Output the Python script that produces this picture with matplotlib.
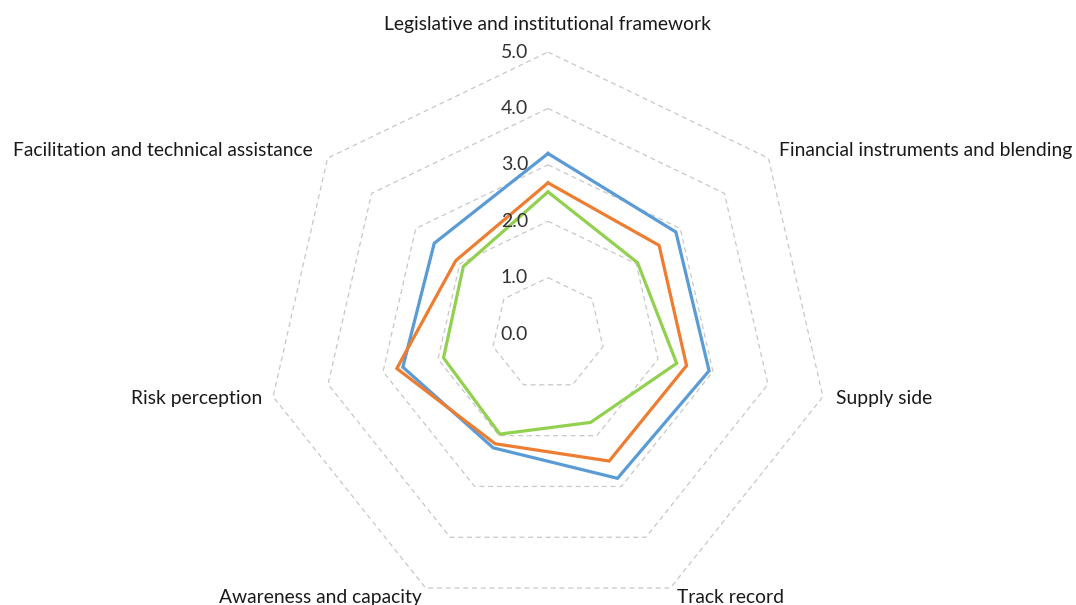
import numpy as np
import matplotlib.pyplot as plt

plt.rcParams['font.family'] = ['Lato', 'DejaVu Sans']

categories = ['Legislative and institutional framework',
              'Financial instruments and blending',
              'Supply side',
              'Track record',
              'Awareness and capacity',
              'Risk perception',
              'Facilitation and technical assistance']
series_a = [3.2, 2.9, 2.93, 2.84, 2.24, 2.64, 2.58]
series_b = [2.68, 2.52, 2.52, 2.5, 2.16, 2.75, 2.09]
series_c = [2.52, 2.03, 2.34, 1.74, 1.97, 1.9, 1.92]
ring_values = [1, 2, 3, 4, 5]
tick_labels = ['0.0', '1.0', '2.0', '3.0', '4.0', '5.0']

n = len(categories)
theta = np.arange(n) * 2 * np.pi / n
theta_c = np.append(theta, theta[0])

fig = plt.figure(figsize=(10.76, 6.05), dpi=100)
ax = fig.add_axes([266 / 1076, (271 - 282) / 605, 564 / 1076, 564 / 605], polar=True)
ax.set_theta_offset(np.pi / 2)
ax.set_theta_direction(-1)
ax.set_ylim(0, 5)
ax.grid(False)
ax.spines['polar'].set_visible(False)
ax.set_xticks([])
ax.set_yticks([])
ax.patch.set_alpha(0)

# heptagon gridlines
for rv in ring_values:
    ax.plot(theta_c, [rv] * (n + 1), color='#C8C8C8', lw=0.9, ls=(0, (4, 3)))

colors = ['#5B9BD5', '#ED7D31', '#92D050']
for vals, c in zip([series_a, series_b, series_c], colors):
    ax.plot(theta_c, vals + vals[:1], color=c, lw=2.3, solid_joinstyle='miter')

# radial labels
for i, lab in enumerate(tick_labels):
    ax.annotate(lab, xy=(0, i), xytext=(-14.4, 0), textcoords='offset points',
                ha='right', va='center', fontsize=14, color='#333333')

offsets = [((0, 20), 'center'), ((7.5, 5.8), 'left'), ((9.4, -1), 'left'),
           ((4.8, -6.5), 'left'), ((-2.6, -6.5), 'right'), ((-8, -1), 'right'),
           ((-10.4, 5.8), 'right')]
for t, lab, (off, ha) in zip(theta, categories, offsets):
    ax.annotate(lab, xy=(t, 5), xytext=off, textcoords='offset points',
                ha=ha, va='center', fontsize=13.9, color='#1a1a1a',
                annotation_clip=False)

fig.savefig('out.png', dpi=100)
